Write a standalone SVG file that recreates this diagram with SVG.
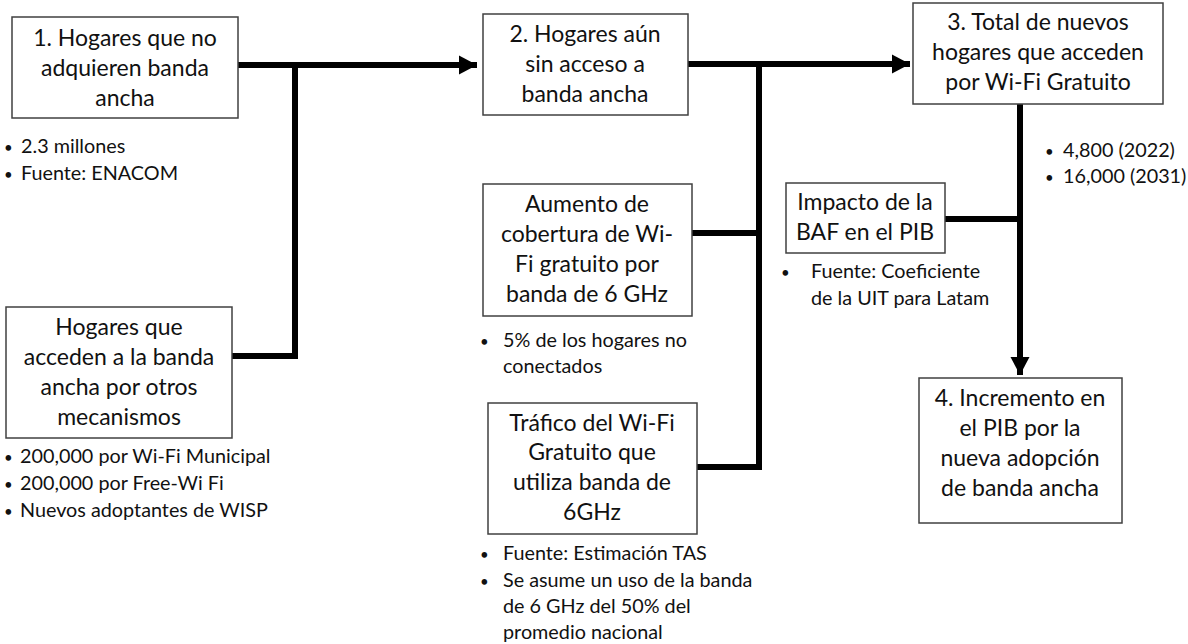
<svg xmlns="http://www.w3.org/2000/svg" width="1188" height="644" viewBox="0 0 1188 644">
<style>
.box{fill:#fff;stroke:#404040;stroke-width:1.5}
.t{font-family:Lato,"Liberation Sans",sans-serif;font-size:23px;fill:#111;text-anchor:middle}
.b{font-family:Lato,"Liberation Sans",sans-serif;font-size:19.8px;fill:#111}
.d{font-size:15px}
.c{fill:none;stroke:#000;stroke-width:6}
</style>
<defs>
<marker id="ah" markerUnits="userSpaceOnUse" markerWidth="20" markerHeight="20" refX="18" refY="10" orient="auto">
<path d="M0,0.5 L18,10 L0,19.5 Z" fill="#000"/>
</marker>
</defs>
<rect width="1188" height="644" fill="#fff"/>
<g id="connectors">
<path class="c" d="M238,65 H477" marker-end="url(#ah)"/>
<path class="c" d="M295,62 V356 H232"/>
<path class="c" d="M688,64 H910" marker-end="url(#ah)"/>
<path class="c" d="M759,61 V467 H697"/>
<path class="c" d="M692,233 H759"/>
<path class="c" d="M1020,104 V375" marker-end="url(#ah)"/>
<path class="c" d="M945,219 H1020"/>
</g>
<g id="n1">
<rect class="box" x="12" y="17" width="226" height="101"/>
<text class="t" x="125" y="46">1. Hogares que no</text>
<text class="t" x="125" y="76">adquieren banda</text>
<text class="t" x="125" y="106">ancha</text>
<text class="b" y="153"><tspan class="d" x="4">•</tspan><tspan x="21">2.3 millones</tspan></text>
<text class="b" y="180"><tspan class="d" x="4">•</tspan><tspan x="21">Fuente: ENACOM</tspan></text>
</g>
<g id="n_otros">
<rect class="box" x="6" y="307" width="226" height="131"/>
<text class="t" x="119" y="335">Hogares que</text>
<text class="t" x="119" y="365">acceden a la banda</text>
<text class="t" x="119" y="395">ancha por otros</text>
<text class="t" x="119" y="425">mecanismos</text>
<text class="b" y="463"><tspan class="d" x="4">•</tspan><tspan x="20">200,000 por Wi-Fi Municipal</tspan></text>
<text class="b" y="490"><tspan class="d" x="4">•</tspan><tspan x="20">200,000 por Free-Wi Fi</tspan></text>
<text class="b" y="517"><tspan class="d" x="4">•</tspan><tspan x="20">Nuevos adoptantes de WISP</tspan></text>
</g>
<g id="n2">
<rect class="box" x="483" y="14" width="205" height="101"/>
<text class="t" x="585" y="42">2. Hogares aún</text>
<text class="t" x="585" y="72">sin acceso a</text>
<text class="t" x="585" y="102">banda ancha</text>
</g>
<g id="n_aumento">
<rect class="box" x="483" y="184" width="209" height="132"/>
<text class="t" x="587" y="212">Aumento de</text>
<text class="t" x="587" y="242">cobertura de Wi-</text>
<text class="t" x="587" y="272">Fi gratuito por</text>
<text class="t" x="587" y="302">banda de 6 GHz</text>
<text class="b" y="347"><tspan class="d" x="480">•</tspan><tspan x="503">5% de los hogares no</tspan></text>
<text class="b" y="373"><tspan x="503">conectados</tspan></text>
</g>
<g id="n_trafico">
<rect class="box" x="488" y="403" width="209" height="131"/>
<text class="t" x="592" y="431">Tráfico del Wi-Fi</text>
<text class="t" x="592" y="460">Gratuito que</text>
<text class="t" x="592" y="490">utiliza banda de</text>
<text class="t" x="592" y="520">6GHz</text>
<text class="b" y="560"><tspan class="d" x="480">•</tspan><tspan x="503">Fuente: Estimación TAS</tspan></text>
<text class="b" y="587"><tspan class="d" x="480">•</tspan><tspan x="503">Se asume un uso de la banda</tspan></text>
<text class="b" y="613"><tspan x="503">de 6 GHz del 50% del</tspan></text>
<text class="b" y="639"><tspan x="503">promedio nacional</tspan></text>
</g>
<g id="n3">
<rect class="box" x="913" y="3" width="250" height="101"/>
<text class="t" x="1038" y="30">3. Total de nuevos</text>
<text class="t" x="1038" y="60">hogares que acceden</text>
<text class="t" x="1038" y="90">por Wi-Fi Gratuito</text>
<text class="b" y="157"><tspan class="d" x="1045">•</tspan><tspan x="1063">4,800 (2022)</tspan></text>
<text class="b" y="183"><tspan class="d" x="1045">•</tspan><tspan x="1063">16,000 (2031)</tspan></text>
</g>
<g id="n_impacto">
<rect class="box" x="786" y="183" width="159" height="70"/>
<text class="t" x="865" y="210">Impacto de la</text>
<text class="t" x="865" y="240">BAF en el PIB</text>
<text class="b" y="278"><tspan class="d" x="781">•</tspan><tspan x="811">Fuente: Coeficiente</tspan></text>
<text class="b" y="305"><tspan x="811">de la UIT para Latam</tspan></text>
</g>
<g id="n4">
<rect class="box" x="919" y="378" width="203" height="145"/>
<text class="t" x="1020" y="406">4. Incremento en</text>
<text class="t" x="1020" y="436">el PIB por la</text>
<text class="t" x="1020" y="466">nueva adopción</text>
<text class="t" x="1020" y="496">de banda ancha</text>
</g>
</svg>
